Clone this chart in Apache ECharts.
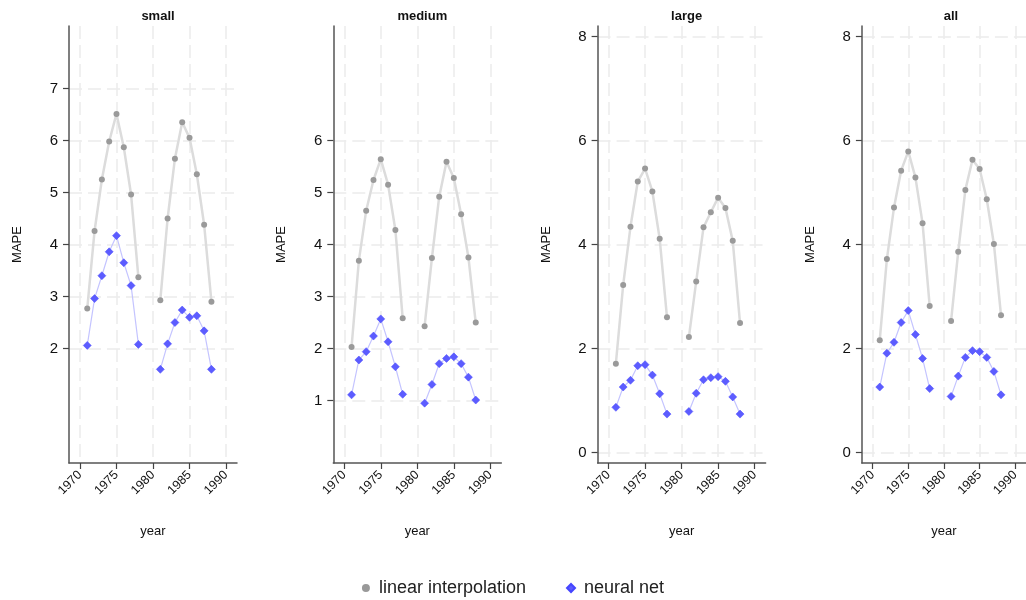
<!DOCTYPE html>
<html><head><meta charset="utf-8">
<script src="https://cdn.jsdelivr.net/npm/echarts@6/dist/echarts.min.js"></script>
<style>html,body{margin:0;padding:0;background:#fff}#c{width:1026px;height:600px}</style>
</head><body><div id="c"></div>
<script>
const panels = ['small', 'medium', 'large', 'all'];
const years = [1971,1972,1973,1974,1975,1976,1977,1978,1979,1980,1981,1982,1983,1984,1985,1986,1987,1988];
const xTicks = [1970, 1975, 1980, 1985, 1990];
const yTicksSmall = [2, 3, 4, 5, 6, 7];
const yTicksMedium = [1, 2, 3, 4, 5, 6];
const yTicksLarge = [0, 2, 4, 6, 8];
const yTicksAll = [0, 2, 4, 6, 8];
const linearSmall  = [2.77,4.26,5.25,5.98,6.51,5.87,4.96,3.37,null,null,2.93,4.50,5.65,6.35,6.05,5.35,4.38,2.90];
const neuralSmall  = [2.06,2.96,3.40,3.86,4.17,3.65,3.21,2.08,null,null,1.60,2.09,2.50,2.74,2.60,2.63,2.34,1.60];
const linearMedium = [2.03,3.69,4.65,5.24,5.64,5.15,4.28,2.58,null,null,2.43,3.74,4.92,5.59,5.28,4.58,3.75,2.50];
const neuralMedium = [1.11,1.78,1.94,2.24,2.57,2.13,1.65,1.12,null,null,0.95,1.31,1.71,1.81,1.84,1.71,1.45,1.01];
const linearLarge  = [1.71,3.22,4.34,5.21,5.46,5.02,4.11,2.60,null,null,2.22,3.29,4.33,4.62,4.90,4.70,4.07,2.49];
const neuralLarge  = [0.87,1.26,1.39,1.67,1.69,1.49,1.13,0.74,null,null,0.79,1.14,1.40,1.44,1.46,1.37,1.07,0.74];
const linearAll    = [2.16,3.72,4.71,5.42,5.79,5.29,4.41,2.82,null,null,2.53,3.86,5.05,5.63,5.45,4.87,4.01,2.64];
const neuralAll    = [1.26,1.91,2.12,2.50,2.73,2.27,1.81,1.23,null,null,1.08,1.47,1.83,1.96,1.94,1.83,1.56,1.11];

const yTicks = [yTicksSmall, yTicksMedium, yTicksLarge, yTicksAll];
const linear = [linearSmall, linearMedium, linearLarge, linearAll];
const neural = [neuralSmall, neuralMedium, neuralLarge, neuralAll];

const FONT = '"Liberation Sans", Arial, sans-serif';
const lefts = [69, 333.3, 597.6, 861.9];
const W = 168, TOP = 26, H = 437;
const gridLine = { show: true, lineStyle: { color: '#ececec', type: [13, 6], width: 1.5 } };
const toPairs = vals => years.map((y, i) => [y, vals[i] == null ? '-' : vals[i]]);

const option = {
  backgroundColor: '#fff',
  animation: false,
  title: panels.map((p, i) => ({
    text: p, left: lefts[i] + W / 2, top: 5, textAlign: 'center',
    textStyle: { fontFamily: FONT, fontSize: 13, fontWeight: 'bold', color: '#111' }
  })),
  legend: {
    top: 574, left: 'center', itemGap: 40, itemWidth: 8, itemHeight: 8,
    textStyle: { fontFamily: FONT, fontSize: 18, color: '#222', padding: [0, 0, 0, 4] },
    data: [{ name: 'linear interpolation', icon: 'circle', itemStyle: { color: '#999' } },
           { name: 'neural net', icon: 'diamond', itemStyle: { color: '#5c5cff' } }]
  },
  grid: panels.map((p, i) => ({ left: lefts[i], top: TOP, width: W, height: H })),
  xAxis: panels.map((p, i) => ({
    type: 'value', gridIndex: i, min: 1968.5, max: 1991.5,
    name: 'year', nameLocation: 'middle', nameGap: 62,
    nameTextStyle: { fontFamily: FONT, fontSize: 13, color: '#111' },
    axisLine: { show: true, onZero: false, lineStyle: { color: '#555', width: 1.5 } },
    axisTick: { show: true, length: 6, customValues: xTicks, lineStyle: { color: '#444', width: 1.2 } },
    axisLabel: { customValues: xTicks, rotate: 45, margin: 10, fontFamily: FONT, fontSize: 12.5, color: '#111',
                 formatter: v => String(v) },
    splitLine: gridLine
  })),
  yAxis: panels.map((p, i) => ({
    type: 'value', gridIndex: i, min: -0.2, max: 8.2,
    name: 'MAPE', nameLocation: 'middle', nameGap: 45,
    nameTextStyle: { fontFamily: FONT, fontSize: 13, color: '#111' },
    axisLine: { show: true, onZero: false, lineStyle: { color: '#555', width: 1.5 } },
    axisTick: { show: true, length: 6, customValues: yTicks[i], lineStyle: { color: '#444', width: 1.2 } },
    axisLabel: { customValues: yTicks[i], margin: 11, fontFamily: FONT, fontSize: 15, color: '#111' },
    splitLine: gridLine
  })),
  series: []
};
panels.forEach((p, i) => {
  option.series.push({
    name: 'linear interpolation', type: 'line', xAxisIndex: i, yAxisIndex: i,
    data: toPairs(linear[i]), connectNulls: false,
    symbol: 'circle', symbolSize: 6,
    itemStyle: { color: '#9a9a9a' },
    lineStyle: { color: '#dcdcdc', width: 2.5 }, z: 2
  });
  option.series.push({
    name: 'neural net', type: 'line', xAxisIndex: i, yAxisIndex: i,
    data: toPairs(neural[i]), connectNulls: false,
    symbol: 'diamond', symbolSize: 8,
    itemStyle: { color: '#5c5cff', borderColor: '#4545ff', borderWidth: 0.5 },
    lineStyle: { color: '#c4c4ff', width: 1.2 }, z: 3
  });
});
const chart = echarts.init(document.getElementById('c'), null, { renderer: 'canvas' });
chart.setOption(option);
</script>
</body></html>
